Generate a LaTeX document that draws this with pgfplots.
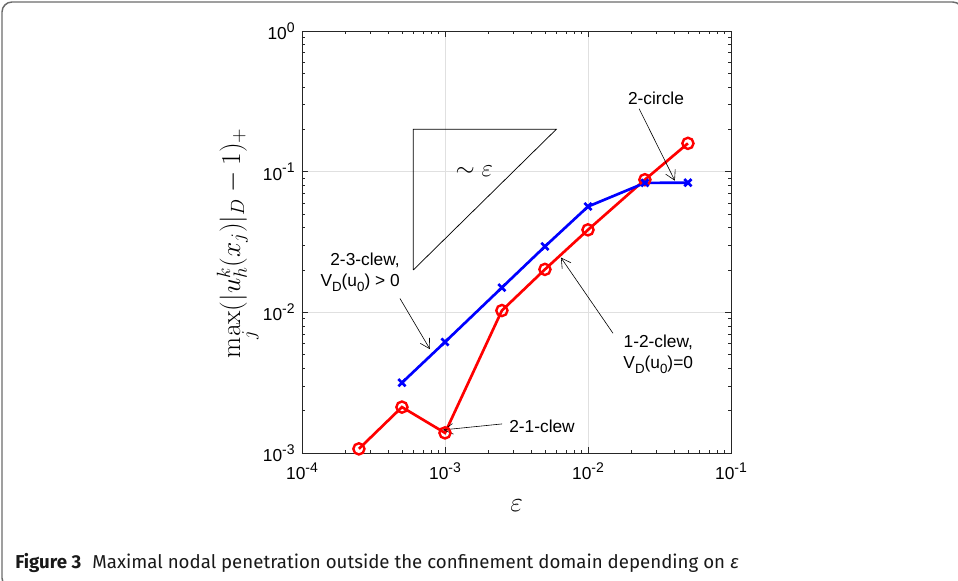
\RequirePackage{fix-cm}
\documentclass[border=0pt]{standalone}
\usepackage[no-math]{fontspec}
\setmainfont{Liberation Sans}
\newfontfamily\capfont{Fira Sans}
\usepackage{pgfplots}
\pgfplotsset{compat=1.18}
\usetikzlibrary{arrows.meta}

\definecolor{axgray}{gray}{0.15}
\definecolor{gridgray}{gray}{0.88}
\definecolor{framegray}{gray}{0.42}

\newcommand\tickfont{\fontsize{13}{14}\selectfont}
\newcommand\annfont{\fontsize{13}{16}\selectfont}
\newcommand\labfont{\fontsize{20.5}{22}\selectfont}
% MATLAB style 10^n tick label
\newcommand\tp[1]{10\raisebox{0.42em}{\fontsize{10.5}{10.5}\selectfont#1}}
\newcommand\sub[1]{\raisebox{-0.28em}{\fontsize{10}{10}\selectfont#1}}

\tikzset{
  annotation/.style={font=\annfont, inner sep=0pt},
  arr/.style={black, line width=0.45pt, -{Straight Barb[length=7pt, width=8pt, line width=0.45pt]}},
}

\pgfplotstableread{
x y
2.5e-4 1.07e-3
5e-4 2.12e-3
1e-3 1.39e-3
2.5e-3 1.03e-2
5e-3 2.02e-2
1e-2 3.86e-2
2.5e-2 8.77e-2
5e-2 0.159
}\redclew

\pgfplotstableread{
x y
5e-4 3.16e-3
1e-3 6.15e-3
2.5e-3 1.50e-2
5e-3 2.94e-2
1e-2 5.65e-2
2.5e-2 8.32e-2
5e-2 8.35e-2
}\blueclew

\begin{document}
\begin{tikzpicture}
\useasboundingbox (0,0) rectangle (718.5pt,-435.75pt);
\begin{scope}
\clip (0,0) rectangle (718.5pt,-435.75pt);
\draw[framegray, line width=1.1pt, rounded corners=7.5pt] (1.5pt,-1.5pt) rectangle (722pt,-441pt);
\end{scope}

\begin{axis}[
  at={(226.5pt,-339.75pt)}, anchor=south west,
  scale only axis, width=321.75pt, height=316.5pt,
  xmode=log, ymode=log,
  xmin=1e-4, xmax=1e-1, ymin=1e-3, ymax=1,
  xtick={1e-4,1e-3,1e-2,1e-1},
  xticklabels={\tp{-4},\tp{-3},\tp{-2},\tp{-1}},
  ytick={1e-3,1e-2,1e-1,1},
  yticklabels={\tp{-3},\tp{-2},\tp{-1},\tp{0}},
  xticklabel style={font=\tickfont, yshift=-3.5pt},
  yticklabel style={font=\tickfont, xshift=-2pt},
  tick pos=both, tick align=inside,
  major tick length=4.5pt, minor tick length=2.5pt,
  every tick/.style={axgray, line width=0.5pt},
  axis line style={axgray, line width=0.6pt},
  grid=major, major grid style={gridgray, line width=0.6pt},
]
\addplot[black, line width=0.55pt] coordinates {(6e-4,0.02) (6e-4,0.2) (6e-3,0.2) (6e-4,0.02)};
\node[font=\fontsize{18.5}{20}\selectfont] at (axis cs:1.6e-3,0.1) {$\sim\varepsilon$};

\addplot[red, line width=2pt, mark=o, mark size=4.2pt, mark options={line width=1.8pt}] table {\redclew};
\addplot[blue, line width=2pt, mark=x, mark size=3.8pt, mark options={line width=2pt}] table {\blueclew};

\node[annotation] at (axis cs:0.0299,0.33) {2-circle};
\draw[arr] (axis cs:0.0228,0.28) -- (axis cs:0.0405,0.0863);

\node[annotation, align=right] at (axis cs:2.55e-4,0.0192) {2-3-clew,\\V\sub{D}(u\sub{0}) > 0};
\draw[arr] (axis cs:4.84e-4,0.01256) -- (axis cs:7.85e-4,5.47e-3);

\node[annotation, align=right] at (axis cs:0.031,5.03e-3) {1-2-clew,\\V\sub{D}(u\sub{0})=0};
\draw[arr] (axis cs:0.01496,7.1e-3) -- (axis cs:6.47e-3,0.0245);

\node[annotation] at (axis cs:4.77e-3,1.55e-3) {2-1-clew};
\draw[arr] (axis cs:2.51e-3,1.61e-3) -- (axis cs:9.7e-4,1.46e-3);
\end{axis}

\node[rotate=90, anchor=base, font=\labfont] at (180pt,-182.25pt)
  {$\max\limits_j(|u_h^k(x_j)|_D-1)_+$};
\node[anchor=base, font=\labfont] at (387.4pt,-383.25pt) {$\varepsilon$};

\node[anchor=base west, inner sep=0pt, font=\capfont\fontsize{14}{16}\selectfont, color=black!90] at (11.25pt,-426pt)
  {\textbf{Figure 3}\hspace{0.6em}Maximal nodal penetration outside the confinement domain depending on \textit{ε}};
\end{tikzpicture}
\end{document}
